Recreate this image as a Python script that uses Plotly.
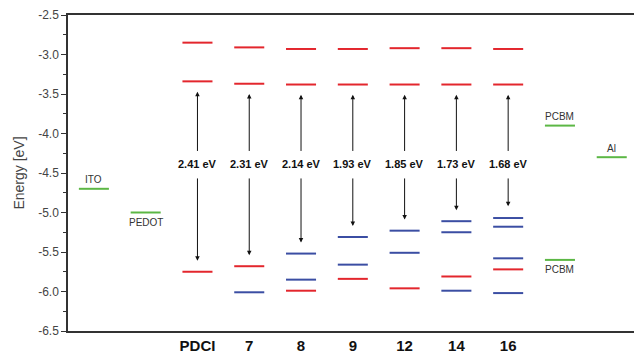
import plotly.graph_objects as go

columns = ["ITO", "PEDOT", "PDCI", "7", "8", "9", "12", "14", "16", "PCBM", "Al"]
tick_labels = ["PDCI", "7", "8", "9", "12", "14", "16"]

red_levels = {
    "PDCI": [-2.85, -3.34, -5.75],
    "7": [-2.91, -3.37, -5.68],
    "8": [-2.93, -3.38, -5.99],
    "9": [-2.93, -3.38, -5.84],
    "12": [-2.92, -3.38, -5.96],
    "14": [-2.92, -3.38, -5.81],
    "16": [-2.93, -3.38, -5.72],
}
blue_levels = {
    "7": [-6.01],
    "8": [-5.52, -5.85],
    "9": [-5.31, -5.66],
    "12": [-5.23, -5.51],
    "14": [-5.11, -5.25, -5.99],
    "16": [-5.07, -5.18, -5.58, -6.02],
}
green_levels = {
    "ITO": [-4.70],
    "PEDOT": [-5.00],
    "PCBM": [-3.90, -5.60],
    "Al": [-4.30],
}
green_labels = [("ITO", -4.70, "ITO", "above"), ("PEDOT", -5.00, "PEDOT", "below"),
                ("PCBM", -3.90, "PCBM", "above"), ("PCBM", -5.60, "PCBM", "below"),
                ("Al", -4.30, "Al", "above")]

gaps = [2.41, 2.31, 2.14, 1.93, 1.85, 1.73, 1.68]
gap_label_y = -4.39

HALF = 0.29
FONT = "Arial, Liberation Sans, sans-serif"


def segs(levels):
    xs, ys = [], []
    for col, vals in levels.items():
        i = columns.index(col)
        for v in vals:
            xs += [i - HALF, i + HALF, None]
            ys += [v, v, None]
    return xs, ys


fig = go.Figure()
for levels, color in [(red_levels, "#e3262d"), (blue_levels, "#3b4ea3"), (green_levels, "#5cb745")]:
    xs, ys = segs(levels)
    fig.add_trace(go.Scatter(x=xs, y=ys, mode="lines", line=dict(color=color, width=2),
                             hoverinfo="skip", showlegend=False))

annotations = []
for name, g in zip(tick_labels, gaps):
    i = columns.index(name)
    lumo = red_levels[name][1]
    homo = lumo - g
    annotations.append(dict(x=i, y=gap_label_y, text=f"<b>{g:.2f} eV</b>", showarrow=False,
                            font=dict(family=FONT, size=11, color="#111")))
    annotations.append(dict(x=i, y=lumo - 0.13, ax=i, ay=-4.24, axref="x", ayref="y",
                            xref="x", yref="y", text="", showarrow=True, arrowhead=2,
                            arrowsize=0.9, arrowwidth=1, arrowcolor="#111", standoff=0, startstandoff=0))
    annotations.append(dict(x=i, y=homo + 0.14, ax=i, ay=-4.55, axref="x", ayref="y",
                            xref="x", yref="y", text="", showarrow=True, arrowhead=2,
                            arrowsize=0.9, arrowwidth=1, arrowcolor="#111", standoff=0, startstandoff=0))

for col, v, txt, pos in green_labels:
    i = columns.index(col)
    annotations.append(dict(x=i, y=v, text=txt, showarrow=False,
                            yshift=9 if pos == "above" else -10,
                            font=dict(family=FONT, size=10, color="#333")))

fig.update_layout(
    width=634, height=353,
    margin=dict(l=68, r=0, t=15, b=22),
    paper_bgcolor="white", plot_bgcolor="white",
    annotations=annotations,
    font=dict(family=FONT),
)
fig.update_xaxes(
    range=[-0.5, 10.43], showgrid=False, zeroline=False,
    showline=True, linecolor="#333", linewidth=1.5, mirror=True,
    tickmode="array", tickvals=[columns.index(c) for c in tick_labels], ticktext=tick_labels,
    ticks="", tickfont=dict(family=FONT, size=15, color="#111", weight="bold"),
)
fig.update_yaxes(
    range=[-6.5, -2.5], showgrid=False, zeroline=False,
    showline=True, linecolor="#333", linewidth=1.5,
    tickmode="array", tickvals=[-2.5, -3.0, -3.5, -4.0, -4.5, -5.0, -5.5, -6.0, -6.5],
    ticktext=["-2.5", "-3.0", "-3.5", "-4.0", "-4.5", "-5.0", "-5.5", "-6.0", "-6.5"],
    ticks="outside", ticklen=5, tickcolor="#333",
    minor=dict(dtick=0.25, ticks="outside", ticklen=3, tickcolor="#333"),
    tickfont=dict(family=FONT, size=12, color="#444"),
    title=dict(text="Energy [eV]", font=dict(family=FONT, size=14, color="#444"), standoff=10),
)

fig.write_html("out.html", config={"displayModeBar": False},
               post_script="document.body.style.margin='0';document.body.style.overflow='hidden';")
